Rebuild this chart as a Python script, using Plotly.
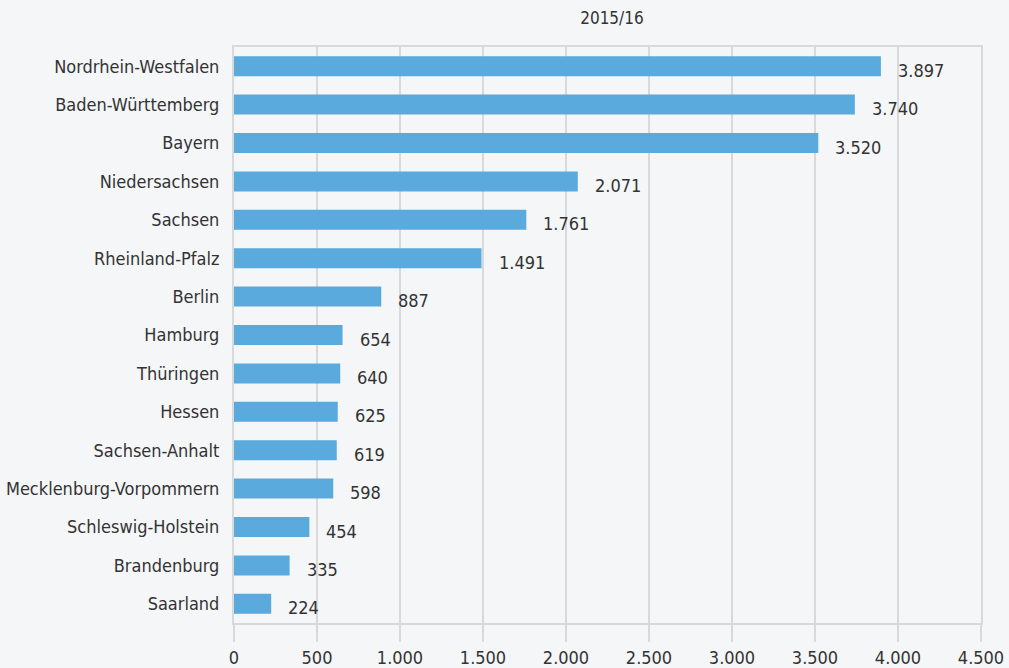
import plotly.graph_objects as go

states = ["Nordrhein-Westfalen", "Baden-Württemberg", "Bayern", "Niedersachsen", "Sachsen",
          "Rheinland-Pfalz", "Berlin", "Hamburg", "Thüringen", "Hessen", "Sachsen-Anhalt",
          "Mecklenburg-Vorpommern", "Schleswig-Holstein", "Brandenburg", "Saarland"]
values = [3897, 3740, 3520, 2071, 1761, 1491, 887, 654, 640, 625, 619, 598, 454, 335, 224]
x_ticks = [0, 500, 1000, 1500, 2000, 2500, 3000, 3500, 4000, 4500]
title = "2015/16"

FONT = "Liberation Sans Narrow, DejaVu Sans Condensed, sans-serif"
BG = "#f5f6f8"
GRID = "#d9d9d9"

fig = go.Figure()
fig.add_trace(go.Bar(
    x=values, y=states, orientation="h",
    marker=dict(color="#5aaadd", line=dict(width=0)),
    width=0.52, hoverinfo="skip",
))

for s, v in zip(states, values):
    fig.add_annotation(
        x=v, y=s, text=f"{v:,}".replace(",", "."), showarrow=False,
        xanchor="left", yanchor="middle", xshift=15, yshift=-4,
        font=dict(family=FONT, size=18, color="#333333"),
    )

fig.update_layout(
    width=1009, height=668,
    paper_bgcolor=BG, plot_bgcolor=BG,
    margin=dict(l=234, r=28, t=47, b=45, autoexpand=False),
    separators=",.",
    showlegend=False,
    font=dict(family=FONT, size=18, color="#333333"),
    title=dict(text=title, x=0.6065, xanchor="center", y=0.973, yanchor="middle",
               font=dict(family=FONT, size=17, color="#333333")),
    xaxis=dict(
        range=[0, 4500], tickvals=x_ticks, tickformat=",d",
        showgrid=True, gridcolor=GRID, gridwidth=2,
        ticks="outside", ticklen=17, tickcolor=GRID, tickwidth=2,
        showline=True, linecolor=GRID, linewidth=2, mirror=True,
        zeroline=False, fixedrange=True, automargin=False,
        tickfont=dict(family=FONT, size=18, color="#333333"),
    ),
    yaxis=dict(
        autorange="reversed", showgrid=False, ticks="", ticklabelstandoff=9,
        showline=True, linecolor=GRID, linewidth=2, mirror=True, automargin=False,
        tickfont=dict(family=FONT, size=18, color="#333333"),
    ),
)

fig.write_html("out.html", config={"displayModeBar": False},
               post_script="document.body.style.margin='0';document.body.style.background='%s';document.body.style.overflow='hidden';" % BG)
